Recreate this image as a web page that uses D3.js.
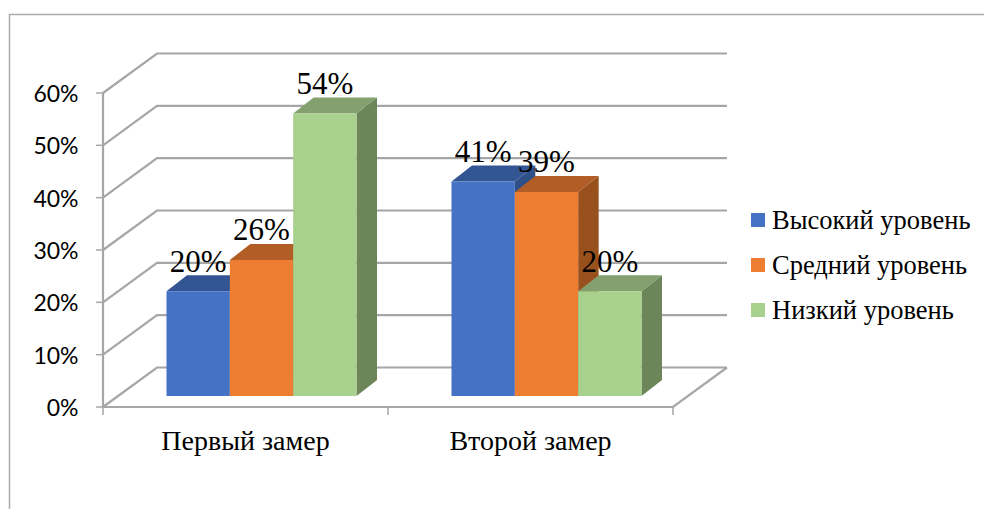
<!DOCTYPE html>
<html><head><meta charset="utf-8">
<script src="https://cdn.jsdelivr.net/npm/d3@7"></script>
<style>html,body{margin:0;background:#fff}svg{display:block}</style></head>
<body><svg id="c" width="984" height="509"></svg>
<script>
const categories = ["Первый замер", "Второй замер"];
const seriesNames = ["Высокий уровень", "Средний уровень", "Низкий уровень"];
const high = [0.20, 0.41];
const mid = [0.26, 0.39];
const low = [0.54, 0.20];
const ticks = [0, 0.1, 0.2, 0.3, 0.4, 0.5, 0.6];
const front = ["#4472C4", "#ED7D31", "#A9D18E"];
const topc = ["#335593", "#B25D25", "#83A06E"];
const sidec = ["#2F4F88", "#98501D", "#6C8559"];

const svg = d3.select("#c");
const y = d3.scaleLinear().domain([0, 0.6]).range([407, 93]);
const x = d3.scaleBand().domain(categories).range([103, 673]);
const inner = d3.scaleBand().domain(seriesNames).range([0, 190]);
const wall = {dx: 54, dy: -39.5};
const depth = {dx: 20.5, dy: -16};
const barLift = 11, pad = 63.5;
const grid = "#A6A6A6";
const serif = "'Liberation Serif','Times New Roman',serif";

// frame
svg.append("path").attr("d", "M9.5 509V14.5H984").attr("fill", "none").attr("stroke", "#ABABAB").attr("stroke-width", 1.5);

// walls + gridlines
const line = (pts) => "M" + pts.map(p => p.join(" ")).join("L");
svg.selectAll("path.g").data(ticks).join("path").attr("class", "g")
  .attr("d", t => line([[103, y(t)], [103 + wall.dx, y(t) + wall.dy], [673 + wall.dx, y(t) + wall.dy]]))
  .attr("fill", "none").attr("stroke", grid).attr("stroke-width", 2.2);
svg.append("path").attr("d", line([[103, 407], [673, 407], [673 + wall.dx, 407 + wall.dy]]))
  .attr("fill", "none").attr("stroke", grid).attr("stroke-width", 2.2);
svg.append("path").attr("d", line([[103, y(0.6)], [103, y(0)]]))
  .attr("fill", "none").attr("stroke", grid).attr("stroke-width", 2.2);

// axis ticks
svg.selectAll("path.ty").data(ticks).join("path").attr("class", "ty")
  .attr("d", t => line([[96, y(t)], [103, y(t)]])).attr("stroke", grid).attr("stroke-width", 1.5);
svg.selectAll("path.tx").data([...categories.map(c => x(c)), 673]).join("path").attr("class", "tx")
  .attr("d", v => line([[v, 407], [v, 415]])).attr("stroke", grid).attr("stroke-width", 1.5);
svg.selectAll("text.yl").data(ticks).join("text").attr("class", "yl")
  .attr("x", 78.5).attr("y", t => y(t)).attr("dy", 9).attr("text-anchor", "end")
  .attr("font-family", "Lato,'Noto Sans',sans-serif").attr("font-size", 23).attr("fill", "#000")
  .text(d3.format(".0%"));

// bars
const groups = categories.map((c, i) => [high[i], mid[i], low[i]].map((v, s) => ({c, s, v})));
const base = y(0) - barLift;
const g = svg.append("g");
groups.flat().forEach(d => {
  const x0 = x(d.c) + pad + inner(seriesNames[d.s]), x1 = x0 + inner.bandwidth();
  const yt = y(d.v) - barLift;
  g.append("path").attr("fill", sidec[d.s]).attr("d", line([[x1, yt], [x1 + depth.dx, yt + depth.dy], [x1 + depth.dx, base + depth.dy], [x1, base]]) + "Z");
  g.append("path").attr("fill", topc[d.s]).attr("d", line([[x0, yt], [x0 + depth.dx, yt + depth.dy], [x1 + depth.dx, yt + depth.dy], [x1, yt]]) + "Z");
  g.append("path").attr("fill", front[d.s]).attr("d", line([[x0, yt], [x1, yt], [x1, base], [x0, base]]) + "Z");
});
// data labels
groups.flat().forEach(d => {
  const x0 = x(d.c) + pad + inner(seriesNames[d.s]);
  svg.append("text").attr("x", x0 + inner.bandwidth() / 2).attr("y", y(d.v) - barLift - 19.5)
    .attr("text-anchor", "middle").attr("font-family", serif).attr("font-size", 31).attr("fill", "#000")
    .text(d3.format(".0%")(d.v));
});
// category labels
svg.selectAll("text.xl").data(categories).join("text").attr("class", "xl")
  .attr("x", c => x(c) + x.bandwidth() / 2).attr("y", 450).attr("text-anchor", "middle")
  .attr("font-family", serif).attr("font-size", 28).attr("fill", "#000").text(c => c);
// legend
const ly = d3.scalePoint().domain(seriesNames).range([220, 310]);
svg.selectAll("rect.lg").data(seriesNames).join("rect").attr("class", "lg")
  .attr("x", 751).attr("y", s => ly(s) - 7).attr("width", 14).attr("height", 14).attr("fill", (s, i) => front[i]);
svg.selectAll("text.lt").data(seriesNames).join("text").attr("class", "lt")
  .attr("x", 772).attr("y", s => ly(s) + 8.5).attr("font-family", serif).attr("font-size", 26.5).attr("fill", "#000").text(s => s);
</script></body></html>
